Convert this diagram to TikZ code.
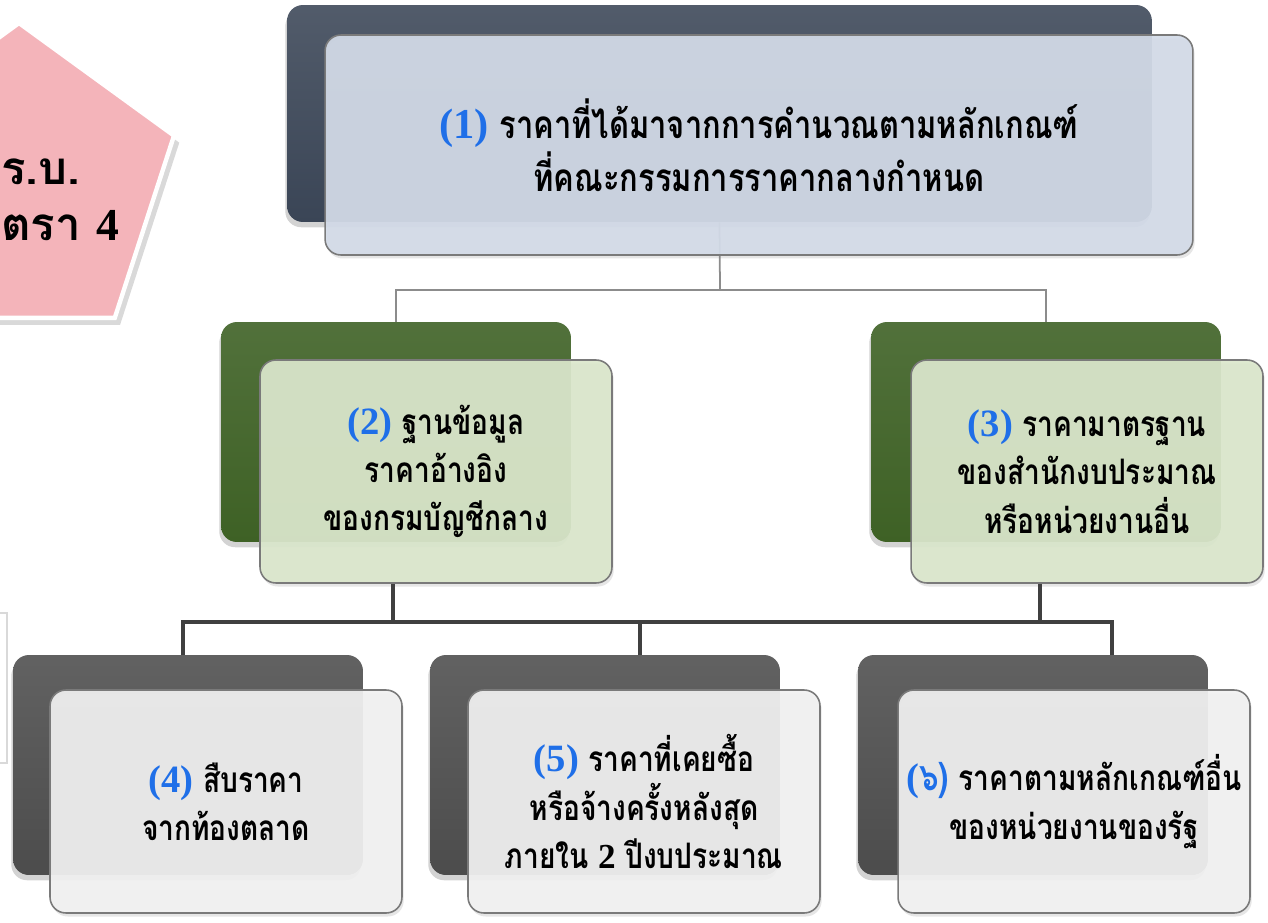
\documentclass[tikz,border=0pt]{standalone}
\usepackage{fontspec}
\newfontfamily\thaifont[Script=Thai, FakeStretch=0.8]{Loma}
\newfontfamily\thaiwide[Script=Thai]{Loma}
\newfontfamily\numfont{Liberation Serif}
\usetikzlibrary{shapes.geometric,shadows,positioning}
\definecolor{slateback}{HTML}{3A4556}
\definecolor{slatefront}{HTML}{D3DBE8}
\definecolor{greenback}{HTML}{3E6125}
\definecolor{greenfront}{HTML}{DBE7CC}
\definecolor{grayback}{HTML}{4C4C4C}
\definecolor{grayfront}{HTML}{F1F1F1}
\definecolor{boxborder}{HTML}{7A7A7A}
\definecolor{linegray}{HTML}{8C8C8C}
\definecolor{busgray}{HTML}{404040}
\definecolor{pentapink}{HTML}{F4B4BA}
\definecolor{numblue}{HTML}{1F6FE8}
\newcommand{\numlabel}[1]{{\numfont\bfseries\color{numblue}\scalebox{1.1}{(#1)}}}

\begin{document}
\begin{tikzpicture}[x=0.02cm, y=-0.02cm,
    backbox/.style={rectangle, rounded corners=9pt, minimum width=7cm, minimum height=4.4cm, inner sep=0pt, drop shadow={opacity=0.35, shadow xshift=-1pt, shadow yshift=-3pt}},
    frontbox/.style={rectangle, rounded corners=9pt, draw=boxborder, line width=0.9pt, minimum width=7.04cm, minimum height=4.46cm, inner sep=2pt, fill opacity=0.93, text opacity=1, align=center, font=\thaifont\bfseries\fontsize{20}{27.5}\selectfont, drop shadow={opacity=0.2, shadow xshift=1pt, shadow yshift=-2pt}},
    thinline/.style={draw=linegray, line width=1pt},
    thickline/.style={draw=busgray, line width=2.8pt},
    penta/.style={regular polygon, regular polygon sides=5, minimum size=6.52cm, inner sep=0pt, fill=pentapink, draw=white, line width=2.5pt, drop shadow={opacity=0.3, shadow xshift=3pt, shadow yshift=-4pt}},
    lawlabel/.style={align=left, inner sep=0pt, font=\thaiwide\bfseries\fontsize{26}{32}\selectfont}
]
\path[use as bounding box, clip] (0,0) rectangle (1268,923);

\draw[draw=black!15, line width=0.6pt] (-20,613) rectangle (7,763);
\node[penta] (law) at (19,186) {};
\node[lawlabel, anchor=west] (lawtext) at (1,200) {ร.บ.\\ตรา {\numfont 4}};

\node[backbox, minimum width=17.3cm, minimum height=4.34cm, top color=slateback!88!white, bottom color=slateback] (topback) at (719.5,113.5) {};
\node[backbox, top color=greenback!90!white, bottom color=greenback] (leftback) at (396,432) {};
\node[backbox, top color=greenback!90!white, bottom color=greenback] (rightback) at (1046,432) {};
\node[backbox, top color=grayback!88!white, bottom color=grayback] (marketback) at (188,765) {};
\node[backbox, top color=grayback!88!white, bottom color=grayback] (pastback) at (605,765) {};
\node[backbox, top color=grayback!88!white, bottom color=grayback] (otherback) at (1033,765) {};

\coordinate (hub) at (720,290);
\coordinate (jL) at (393,622);
\coordinate (jR) at (1040,622);
\coordinate (busL) at (183,622);
\coordinate (busM) at (640,622);
\coordinate (busR) at (1112,622);

\draw[thinline] (topback.south) -- (hub);
\draw[thinline] (leftback.north) |- (hub) -| (rightback.north);

\node[frontbox, fill=slatefront, minimum width=17.36cm, minimum height=4.4cm, font=\thaifont\bfseries\fontsize{22}{30}\selectfont] (top) at (759,145) {\numlabel{1} ราคาที่ได้มาจากการคำนวณตามหลักเกณฑ์\\ที่คณะกรรมการราคากลางกำหนด};
\node[frontbox, fill=greenfront] (database) at (436,471.5) {\numlabel{2} ฐานข้อมูล\\ราคาอ้างอิง\\ของกรมบัญชีกลาง};
\node[frontbox, fill=greenfront] (standard) at (1087,471.5) {\numlabel{3} ราคามาตรฐาน\\ของสำนักงบประมาณ\\หรือหน่วยงานอื่น};

\draw[thickline] (jL |- database.south) -- (jL);
\draw[thickline] (jR |- standard.south) -- (jR);
\draw[thickline] (busL |- marketback.north) |- (busR) -- (busR |- otherback.north);
\draw[thickline] (busM) -- (busM |- pastback.north);

\node[frontbox, fill=grayfront] (market) at (226,801.5) {\numlabel{4} สืบราคา\\จากท้องตลาด};
\node[frontbox, fill=grayfront] (past) at (644,801.5) {\numlabel{5} ราคาที่เคยซื้อ\\หรือจ้างครั้งหลังสุด\\ภายใน {\numfont 2} ปีงบประมาณ};
\node[frontbox, fill=grayfront] (other) at (1074,801.5) {\numlabel{\thaifont ๖} ราคาตามหลักเกณฑ์อื่น\\ของหน่วยงานของรัฐ};

\end{tikzpicture}
\end{document}
